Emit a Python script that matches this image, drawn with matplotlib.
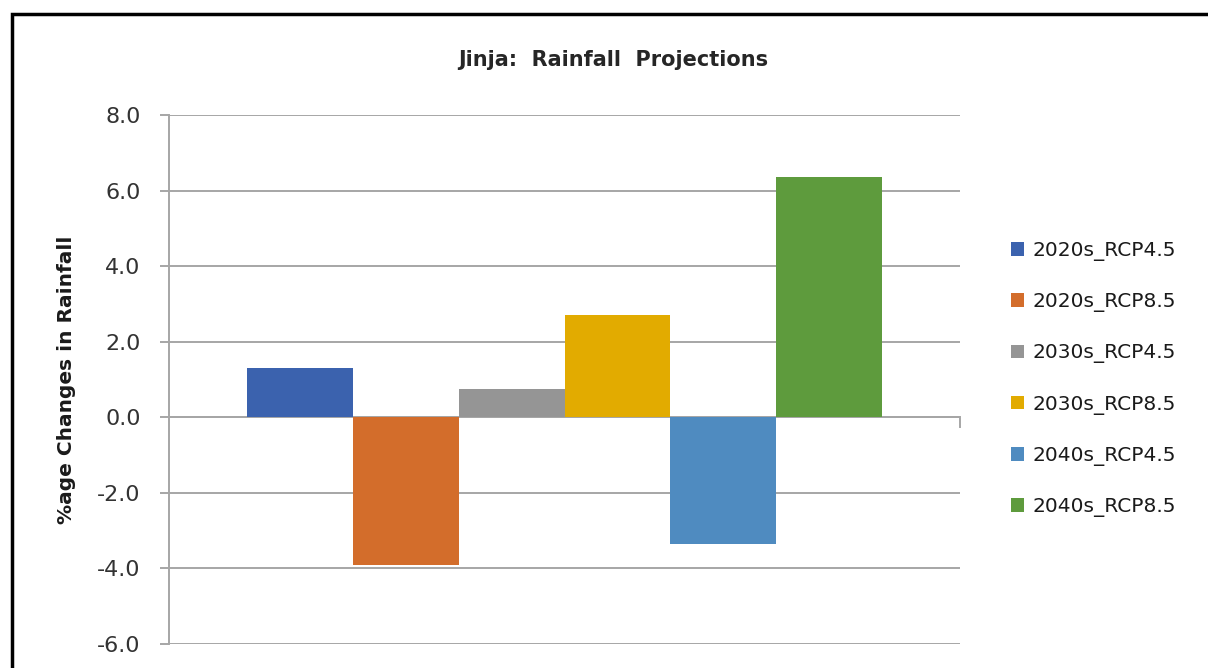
import numpy as np
import matplotlib.pyplot as plt
from matplotlib.patches import Rectangle

series = ['2020s_RCP4.5', '2020s_RCP8.5', '2030s_RCP4.5',
          '2030s_RCP8.5', '2040s_RCP4.5', '2040s_RCP8.5']
values = [1.3, -3.9, 0.75, 2.7, -3.35, 6.35]
colors = ['#3B62AE', '#D36D2B', '#959595', '#E2AB00', '#4F8BC0', '#5E9B3D']
yticks = [-6.0, -4.0, -2.0, 0.0, 2.0, 4.0, 6.0, 8.0]

plt.rcParams['font.family'] = ['DejaVu Sans']

fig = plt.figure(figsize=(12.08, 6.68), dpi=100)
ax = fig.add_axes([169/1208, 1 - 644/668, (960 - 169)/1208, (644 - 115)/668])

# outer chart border (cropped at right / bottom)
fig.patches.append(Rectangle((11.5/1208, -0.1), 1.2, 1 - 14.5/668 + 0.1,
                             transform=fig.transFigure, fill=False,
                             edgecolor='black', linewidth=2.5))

n = len(values)
width = 1.0 / (n + 1.48)
x0 = -n * width / 2
for i, (s, v, c) in enumerate(zip(series, values, colors)):
    ax.bar(x0 + (i + 0.5) * width, v, width=width, color=c, label=s, zorder=3)

ax.set_xlim(-0.5, 0.5)
ax.set_ylim(-6, 8)
ax.set_yticks(yticks)
ax.set_yticklabels([f'{t:.1f}' for t in yticks], fontsize=16, color='#333333')
ax.set_xticks([])
ax.grid(axis='y', color='#A6A6A6', linewidth=1.4, zorder=0)
for side in ['top', 'right', 'bottom']:
    ax.spines[side].set_visible(False)
ax.spines['left'].set_color('#A6A6A6')
ax.spines['left'].set_linewidth(1.4)
ax.tick_params(axis='y', length=6.5, width=1.4, color='#A6A6A6', pad=14)
ax.axhline(0, color='#A6A6A6', linewidth=1.4, zorder=2)
ax.plot([0.5, 0.5], [0, -0.25], color='#A6A6A6', linewidth=1.4, clip_on=False)

ax.set_ylabel('%age Changes in Rainfall', fontsize=14.5, fontweight='bold',
              color='#1a1a1a', labelpad=15)
fig.text(613/1208, 1 - 60/668, 'Jinja:  Rainfall  Projections', ha='center', va='center',
         fontsize=15, fontweight='bold', color='#262626')

fig.legend(loc='upper left', bbox_to_anchor=(1003/1208, 1 - 233/668), frameon=False,
           fontsize=14.5, handlelength=0.66, handleheight=0.66, handletextpad=0.4,
           labelspacing=1.55, borderaxespad=0, labelcolor='#1a1a1a')

fig.savefig('out.png', dpi=100)
